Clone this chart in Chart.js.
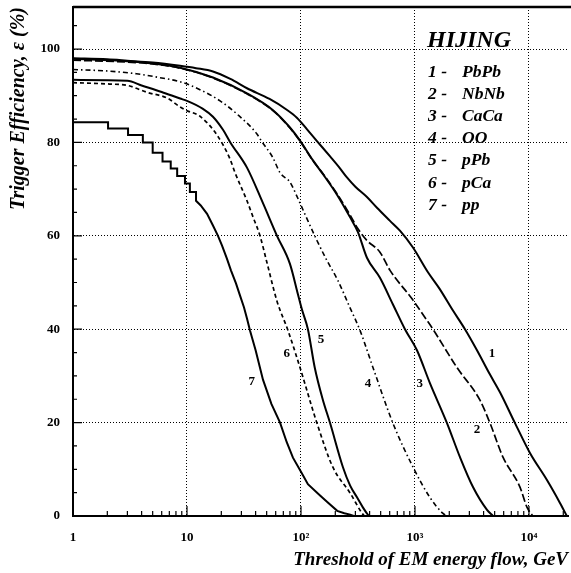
<!DOCTYPE html>
<html>
<head>
<meta charset="utf-8">
<script src="https://cdn.jsdelivr.net/npm/chart.js@4.4.0/dist/chart.umd.min.js"></script>
<style>
  html, body { margin: 0; padding: 0; background: #fff; }
</style>
</head>
<body>
<canvas id="chart-canvas" width="571" height="573"></canvas>
<script>
// curve ids and colliding systems (HIJING)
const curveIds = ['1', '2', '3', '4', '5', '6', '7'];
const systems = ['PbPb', 'NbNb', 'CaCa', 'OO', 'pPb', 'pCa', 'pp'];

// threshold (GeV) / efficiency (%)
const pbpbE   = [1, 2, 3, 5, 8.7, 12, 16.9, 24, 33.6, 53, 75, 92, 113, 138, 180, 219, 253, 300, 379, 464, 604, 738, 960, 1300, 1640, 2154, 2746, 3499, 4500, 5568, 7540, 10200, 14380, 18700, 21500];
const pbpbEff = [98.0, 97.8, 97.5, 97.1, 96.4, 95.9, 95.2, 93.6, 91.6, 89.3, 87, 85.3, 82.8, 80.3, 77, 74.5, 72.5, 70.5, 68.3, 66, 63.2, 61.1, 57.5, 52.2, 48.7, 44, 40, 35.5, 30.5, 26.5, 19.9, 13.5, 7.7, 2.8, 0];

const nbnbE   = [1, 3, 5, 8.7, 16.9, 33.6, 56.8, 80, 98, 127, 156, 207, 269, 316, 379, 493, 604, 942, 1274, 1438, 2334, 3717, 4550, 5916, 8337, 9600, 10840];
const nbnbEff = [97.6, 97.2, 96.8, 95.9, 93.8, 90.4, 86.8, 83.1, 80.3, 76.1, 73.3, 69, 64.5, 61.5, 59, 56.5, 52.6, 46.5, 41.9, 40, 31.8, 24.8, 19.9, 12.6, 6.2, 1.9, 0];

const cacaE   = [1, 3, 5, 8.7, 16.9, 33.6, 56.8, 80, 98, 127, 156, 207, 269, 316, 379, 493, 641, 817, 1041, 1355, 1909, 2482, 3228, 4285, 4833];
const cacaEff = [97.9, 97.4, 96.9, 96.0, 93.9, 90.5, 86.9, 83.2, 80.4, 76.2, 73.2, 68.8, 64, 60.8, 55.3, 51, 45.3, 40, 35.5, 28.4, 19.9, 12.6, 6.2, 1.3, 0];

const ooE   = [1, 2, 3.6, 6, 8.7, 13, 19.5, 27.4, 41.1, 45, 56.8, 65.5, 80, 92, 108, 138, 169, 211, 268, 330, 428, 640, 960, 1350, 1750, 1900];
const ooEff = [95.6, 95.3, 94.7, 93.8, 93.0, 91.3, 88.9, 86.1, 81.8, 80.3, 76.7, 73.5, 71.5, 68.5, 64.7, 59, 54.7, 50.4, 44.7, 39.7, 31.8, 19.9, 10.5, 4, 0.6, 0];

const ppbE   = [1, 3, 4, 6, 8.7, 10, 13.8, 16.9, 20.7, 24, 33.6, 46, 61.6, 80, 94, 102, 115, 132, 155, 180, 233, 270, 310, 350, 386, 400];
const ppbEff = [93.4, 93.2, 92.2, 90.8, 89.4, 88.9, 87.2, 85.5, 82.7, 80, 74.6, 67.2, 60, 54, 47.5, 44.2, 40, 31.8, 25, 19.9, 10.5, 6.5, 4, 1.8, 0.3, 0];

const pcaE   = [1, 2.1, 3, 4.5, 6.7, 8.7, 10, 13, 18.3, 23.8, 26.4, 33.6, 38, 43.7, 50, 61.6, 77, 98, 138, 190, 270, 343, 360];
const pcaEff = [92.8, 92.5, 92.2, 90.7, 89.5, 87.6, 86.8, 85.6, 81.6, 76.5, 73.5, 67.5, 64, 60, 54.5, 46, 39.7, 31.8, 19.9, 10.5, 4.9, 0.6, 0];

// pp: staircase at the top, then smooth
const ppStepE   = [1, 2.03, 3.04, 4.1, 5.0, 6.1, 7.2, 8.2, 9.6, 10.6, 12];
const ppStepEff = [84.3, 83.0, 81.6, 80.0, 77.8, 75.9, 74.4, 72.8, 71.2, 69.4, 67.5];
const ppE   = [13.2, 15, 16.9, 18.7, 20.3, 22.4, 24.3, 26.9, 29.2, 31.6, 33.6, 35.7, 40, 46.4, 55, 65.5, 75, 85, 100, 115, 147, 170, 208, 240, 270, 290];
const ppEff = [66.5, 64.7, 62.2, 60, 57.9, 55.1, 52.6, 49.8, 47.2, 44.7, 42.3, 39.7, 35.5, 29.2, 24, 20, 15.8, 12.5, 9.5, 6.8, 4.4, 3, 1.1, 0.6, 0.3, 0];

// where the curve numbers sit (threshold, efficiency)
const labelE   = [4730, 3500, 1100, 387, 150, 75, 37];
const labelEff = [34.8, 18.6, 28.4, 28.4, 37.8, 34.8, 28.8];

// axes
const xMajorTicks = [1, 10, 100, 1000, 10000];
const xTickLabels = ['1', '10', '10²', '10³', '10⁴'];
const yMajorTicks = [0, 20, 40, 60, 80, 100];
const yMinorTicks = [5, 10, 15, 25, 30, 35, 45, 50, 55, 65, 70, 75, 85, 90, 95, 105];

const serif = '"Liberation Serif", "DejaVu Serif", serif';

function pts(es, vs) {
    return es.map((e, i) => ({ x: e, y: vs[i] }));
}

const ppPts = [];
ppStepE.forEach((e, i) => {
    ppPts.push({ x: e, y: ppStepEff[i] });
    if (i < ppStepE.length - 1) ppPts.push({ x: ppStepE[i + 1], y: ppStepEff[i] });
});
const ppAll = ppPts.concat(pts(ppE, ppEff));

function curve(data, dash, width, smooth) {
    return {
        data: data,
        borderColor: '#000',
        borderWidth: width,
        borderDash: dash,
        pointRadius: 0,
        fill: false,
        tension: 0,
        cubicInterpolationMode: smooth ? 'monotone' : 'default'
    };
}

const datasets = [
    curve(pts(pbpbE, pbpbEff), [], 2, true),
    curve(pts(nbnbE, nbnbEff), [8, 3], 1.7, true),
    curve(pts(cacaE, cacaEff), [], 2, true),
    curve(pts(ooE, ooEff), [5, 3, 1.5, 3], 1.6, true),
    curve(pts(ppbE, ppbEff), [], 2, true),
    curve(pts(pcaE, pcaEff), [4, 3], 1.7, true),
    curve(ppAll, [], 2, false)
];

// inward ticks, top frame, legend text and curve numbers
const decorations = {
    id: 'decorations',
    afterDraw(chart) {
        const { ctx, chartArea: a, scales: { x, y } } = chart;
        ctx.save();
        ctx.strokeStyle = '#000';
        ctx.lineWidth = 1.2;
        ctx.beginPath();
        yMinorTicks.forEach(v => {
            const py = y.getPixelForValue(v);
            ctx.moveTo(a.left, py); ctx.lineTo(a.left + 4, py);
        });
        yMajorTicks.forEach(v => {
            const py = y.getPixelForValue(v);
            ctx.moveTo(a.left, py); ctx.lineTo(a.left + 9, py);
        });
        xMajorTicks.forEach(d => {
            for (let m = 2; m <= 9; m++) {
                const px = x.getPixelForValue(d * m);
                if (px > a.right) continue;
                ctx.moveTo(px, a.bottom); ctx.lineTo(px, a.bottom - 5);
            }
            const px = x.getPixelForValue(d);
            ctx.moveTo(px, a.bottom); ctx.lineTo(px, a.bottom - 10);
        });
        ctx.stroke();

        ctx.lineWidth = 2.5;
        ctx.beginPath();
        ctx.moveTo(a.left, a.top); ctx.lineTo(a.right + 3, a.top);
        ctx.stroke();

        ctx.fillStyle = '#000';
        ctx.textBaseline = 'middle';
        ctx.textAlign = 'left';
        ctx.font = 'italic bold 24px ' + serif;
        ctx.fillText('HIJING', a.left + 354, 41);
        ctx.font = 'italic bold 17.5px ' + serif;
        systems.forEach((s, i) => {
            const ty = 72 + i * 22.2;
            ctx.fillText(curveIds[i] + ' -', a.left + 355, ty);
            ctx.fillText(s, a.left + 389, ty);
        });

        ctx.textAlign = 'center';
        ctx.font = 'bold 13px ' + serif;
        curveIds.forEach((id, i) => {
            ctx.fillText(id, x.getPixelForValue(labelE[i]), y.getPixelForValue(labelEff[i]));
        });
        ctx.restore();
    }
};

const ctx = document.getElementById('chart-canvas').getContext('2d');
const myChart = new Chart(ctx, {
    type: 'line',
    data: { datasets: datasets },
    plugins: [decorations],
    options: {
        responsive: false,
        animation: false,
        layout: { padding: { top: 7, right: 3, left: 0, bottom: 0 } },
        plugins: {
            legend: { display: false },
            tooltip: { enabled: false }
        },
        scales: {
            x: {
                type: 'logarithmic',
                min: 1,
                max: 22000,
                afterBuildTicks: s => { s.ticks = xMajorTicks.map(v => ({ value: v })); },
                afterFit: s => { s.height = 57; s.paddingLeft = 0; s.paddingRight = 0; },
                ticks: {
                    color: '#000',
                    autoSkip: false,
                    maxRotation: 0,
                    padding: 14,
                    font: { family: serif, weight: 'bold', size: 13 },
                    callback: v => {
                        const i = xMajorTicks.indexOf(v);
                        return i >= 0 ? xTickLabels[i] : '';
                    }
                },
                grid: { color: '#000', lineWidth: 1, drawTicks: false },
                border: { display: true, color: '#000', width: 2, dash: [1, 2] },
                title: {
                    display: true,
                    text: 'Threshold of EM energy flow, GeV',
                    align: 'end',
                    color: '#000',
                    font: { family: serif, style: 'italic', weight: 'bold', size: 19 },
                    padding: { top: 0, bottom: 2 }
                }
            },
            y: {
                min: 0,
                max: 109,
                afterBuildTicks: s => { s.ticks = yMajorTicks.map(v => ({ value: v })); },
                afterFit: s => { s.width = 73; s.paddingTop = 0; s.paddingBottom = 0; },
                ticks: {
                    color: '#000',
                    padding: 13,
                    font: { family: serif, weight: 'bold', size: 13 }
                },
                grid: { color: '#000', lineWidth: 1, drawTicks: false },
                border: { display: true, color: '#000', width: 2, dash: [1, 2] },
                title: {
                    display: true,
                    text: 'Trigger Efficiency, ε (%)',
                    align: 'end',
                    color: '#000',
                    font: { family: serif, style: 'italic', weight: 'bold', size: 20 },
                    padding: { top: 7, bottom: 0 }
                }
            }
        }
    }
});
</script>
</body>
</html>
